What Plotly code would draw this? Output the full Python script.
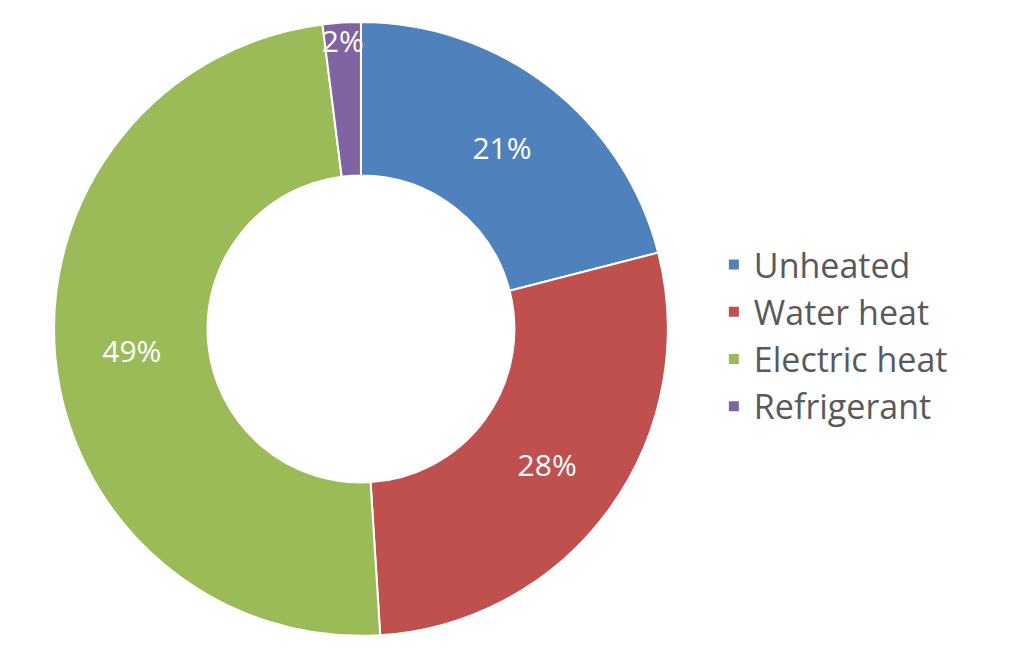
import plotly.graph_objects as go

labels = ["Unheated", "Water heat", "Electric heat", "Refrigerant"]
values = [21, 28, 49, 2]
colors = ["#4F81BD", "#C0504D", "#9BBB59", "#8064A2"]

fig = go.Figure(go.Pie(
    labels=labels, values=values, hole=0.5, sort=False, direction="clockwise",
    rotation=0, marker=dict(colors=colors, line=dict(color="white", width=2)),
    textinfo="percent", texttemplate="%{percent:.0%}", textposition="inside",
    insidetextorientation="horizontal",
    textfont=dict(color="white", size=30, family="Open Sans"),
    domain=dict(x=[0.045, 0.645], y=[0.04, 0.98]),
))
fig.update_layout(
    width=1023, height=655, margin=dict(l=0, r=0, t=0, b=0),
    paper_bgcolor="white",
    uniformtext=dict(minsize=30, mode="show"),
    legend=dict(x=0.69, y=0.5, yanchor="middle", xanchor="left",
                font=dict(size=34, color="#595959", family="Open Sans"),
                itemsizing="constant", tracegroupgap=0),
)
fig.write_html("out.html")
